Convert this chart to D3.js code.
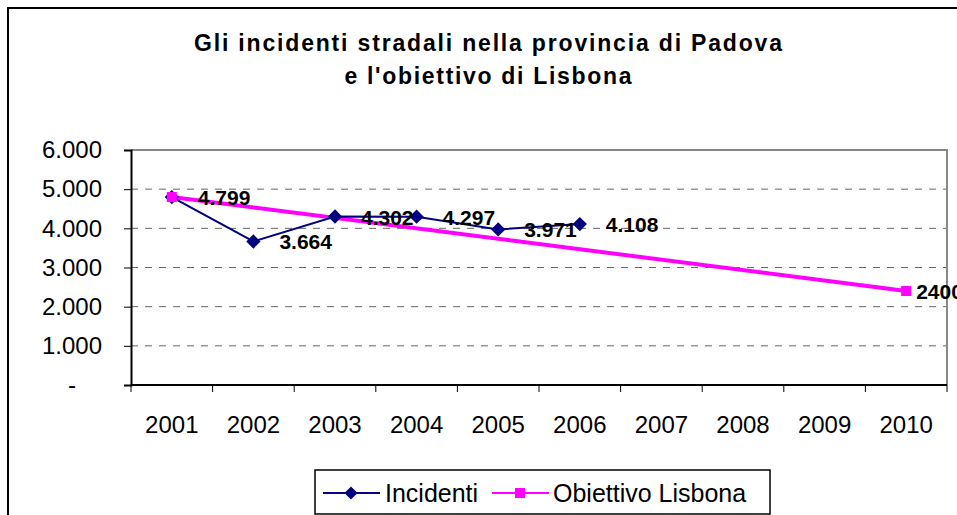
<!DOCTYPE html>
<html>
<head>
<meta charset="utf-8">
<script src="https://cdn.jsdelivr.net/npm/d3@7"></script>
<style>
  body { margin: 0; background: #fff; }
  svg { font-family: "Liberation Sans", Arial, sans-serif; }
</style>
</head>
<body>
<div id="chart"></div>
<script>
// Data
const years = ["2001", "2002", "2003", "2004", "2005", "2006", "2007", "2008", "2009", "2010"];
const incidenti = [4799, 3664, 4302, 4297, 3971, 4108, null, null, null, null];
const lisbona = [4799, null, null, null, null, null, null, null, null, 2400];
const yTicks = [0, 1000, 2000, 3000, 4000, 5000, 6000];

const W = 957, H = 515;
const plot = {left: 131, right: 947, top: 150, bottom: 385};

const svg = d3.select("#chart").append("svg")
    .attr("width", W)
    .attr("height", H);

// outer chart frame (runs off the right and bottom edges)
svg.append("rect")
    .attr("x", 8).attr("y", 8)
    .attr("width", W + 20).attr("height", H + 20)
    .attr("fill", "none").attr("stroke", "#000").attr("stroke-width", 2);

// title
const title = svg.append("text")
    .attr("text-anchor", "middle")
    .attr("font-weight", "bold")
    .attr("font-size", 23);
title.append("tspan").attr("x", 488).attr("y", 51)
    .attr("textLength", 588).attr("lengthAdjust", "spacing")
    .text("Gli incidenti stradali nella provincia di Padova");
title.append("tspan").attr("x", 488).attr("y", 84)
    .attr("textLength", 287).attr("lengthAdjust", "spacing")
    .text("e l'obiettivo di Lisbona");

const x = d3.scaleBand().domain(years).range([plot.left, plot.right]);
const y = d3.scaleLinear().domain([0, 6000]).range([plot.bottom, plot.top]);

// gridlines
svg.append("g")
    .selectAll("line")
    .data(yTicks.filter(d => d > 0 && d < 6000))
    .join("line")
    .attr("x1", plot.left).attr("x2", plot.right)
    .attr("y1", d => y(d)).attr("y2", d => y(d))
    .attr("stroke", "#666").attr("stroke-dasharray", "7,7");

// plot area border (top and right in gray)
svg.append("path")
    .attr("d", `M${plot.left},${plot.top}H${plot.right}V${plot.bottom}`)
    .attr("fill", "none").attr("stroke", "#888").attr("stroke-width", 2);

// y axis
const fmt = d => d === 0 ? "-" : d3.format(",")(d).replace(/,/g, ".");
const yAxis = svg.append("g")
    .attr("transform", `translate(${plot.left},0)`)
    .call(d3.axisLeft(y).tickValues(yTicks).tickSize(7).tickPadding(22).tickFormat(fmt));
yAxis.select(".domain").attr("stroke", "#000").attr("stroke-width", 2);
yAxis.selectAll(".tick line").attr("stroke", "#000");
yAxis.selectAll("text")
    .attr("font-size", 24).attr("font-family", "Liberation Sans, Arial, sans-serif").attr("fill", "#000")
    .filter(d => d === 0).attr("text-anchor", "middle").attr("dx", -30);

// x axis: ticks between categories
const xAxis = svg.append("g")
    .attr("transform", `translate(0,${plot.bottom})`);
xAxis.append("line")
    .attr("x1", plot.left).attr("x2", plot.right)
    .attr("stroke", "#000").attr("stroke-width", 2);
xAxis.selectAll(".tk")
    .data(years.concat(["end"]))
    .join("line")
    .attr("class", "tk")
    .attr("x1", (d, i) => plot.left + i * x.step())
    .attr("x2", (d, i) => plot.left + i * x.step())
    .attr("y1", 0).attr("y2", 7)
    .attr("stroke", "#000");
xAxis.selectAll("text")
    .data(years)
    .join("text")
    .attr("x", d => x(d) + x.bandwidth() / 2)
    .attr("y", 48)
    .attr("text-anchor", "middle")
    .attr("font-size", 24)
    .text(d => d);

const cx = i => x(years[i]) + x.bandwidth() / 2;

// Obiettivo Lisbona line (connects across gaps)
const lisPts = lisbona.map((v, i) => ({i, v})).filter(d => d.v != null);
svg.append("path")
    .datum(lisPts)
    .attr("fill", "none").attr("stroke", "#ff00ff").attr("stroke-width", 4)
    .attr("d", d3.line().x(d => cx(d.i)).y(d => y(d.v)));

// Incidenti line
const incPts = incidenti.map((v, i) => ({i, v})).filter(d => d.v != null);
svg.append("path")
    .datum(incPts)
    .attr("fill", "none").attr("stroke", "#000080").attr("stroke-width", 2)
    .attr("d", d3.line().x(d => cx(d.i)).y(d => y(d.v)));

svg.append("g").selectAll("path")
    .data(incPts)
    .join("path")
    .attr("transform", d => `translate(${cx(d.i)},${y(d.v)})`)
    .attr("d", d3.symbol(d3.symbolDiamond2, 130)())
    .attr("fill", "#000080");

svg.append("g").selectAll("rect")
    .data(lisPts)
    .join("rect")
    .attr("x", d => cx(d.i) - 5)
    .attr("y", d => y(d.v) - 5)
    .attr("width", 10).attr("height", 10)
    .attr("fill", "#ff00ff");

// data labels
const labelFmt = d3.format(",");
svg.append("g").selectAll("text")
    .data(incPts)
    .join("text")
    .attr("x", d => cx(d.i) + 26)
    .attr("y", d => y(d.v) + 8)
    .attr("font-size", 21).attr("font-weight", "bold")
    .text(d => labelFmt(d.v).replace(/,/g, "."));

svg.append("text")
    .attr("x", cx(9) + 10)
    .attr("y", y(2400) + 8)
    .attr("font-size", 21).attr("font-weight", "bold")
    .text(lisbona[9]);

// legend
const lg = svg.append("g").attr("transform", "translate(315,470)");
lg.append("rect")
    .attr("width", 455).attr("height", 44)
    .attr("fill", "#fff").attr("stroke", "#000").attr("stroke-width", 1.5);
lg.append("line").attr("x1", 8).attr("x2", 65).attr("y1", 23).attr("y2", 23)
    .attr("stroke", "#000080").attr("stroke-width", 2);
lg.append("path").attr("transform", "translate(36,23)")
    .attr("d", d3.symbol(d3.symbolDiamond2, 110)()).attr("fill", "#000080");
lg.append("text").attr("x", 70).attr("y", 32).attr("font-size", 25).text("Incidenti");
lg.append("line").attr("x1", 177).attr("x2", 234).attr("y1", 23).attr("y2", 23)
    .attr("stroke", "#ff00ff").attr("stroke-width", 2);
lg.append("rect").attr("x", 200).attr("y", 18).attr("width", 10).attr("height", 10).attr("fill", "#ff00ff");
lg.append("text").attr("x", 238).attr("y", 32).attr("font-size", 25).text("Obiettivo Lisbona");
</script>
</body>
</html>
